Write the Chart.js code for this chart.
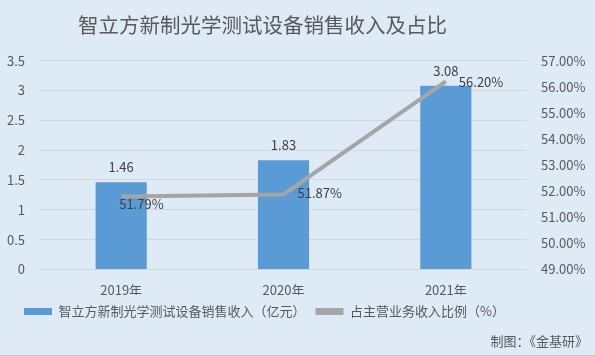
<!DOCTYPE html>
<html><head><meta charset="utf-8">
<script src="https://cdn.jsdelivr.net/npm/chart.js@4/dist/chart.umd.min.js"></script>
<style>html,body{margin:0;padding:0;background:#DEEAF6;}canvas{display:block;}</style>
</head><body>
<canvas id="c" width="595" height="356"></canvas>
<script>
const categories = ['2019年', '2020年', '2021年'];
const revenue = [1.46, 1.83, 3.08];
const ratio = [51.79, 51.87, 56.20];
const revenueLabel = '智立方新制光学测试设备销售收入（亿元）';
const ratioLabel = '占主营业务收入比例（%）';
const titleText = '智立方新制光学测试设备销售收入及占比';
const sourceText = '制图：《金基研》';
const FONT = '"Noto Sans CJK SC", "DejaVu Sans", sans-serif';

const bgPlugin = {
  id: 'bg',
  afterLayout(chart) {
    if (chart.legend) chart.legend.right = chart.width - 66;
    if (chart.titleBlock) chart.titleBlock.right = chart.width - 70;
  },
  beforeDraw(chart) {
    const ctx = chart.ctx;
    ctx.save();
    ctx.fillStyle = '#DEEAF6';
    ctx.fillRect(0, 0, chart.width, chart.height);
    ctx.restore();
  },
  afterDraw(chart) {
    const ctx = chart.ctx;
    ctx.save();
    ctx.font = '13px ' + FONT;
    ctx.fillStyle = '#595959';
    ctx.textAlign = 'right';
    ctx.textBaseline = 'middle';
    ctx.fillText(sourceText, 588, 341);
    ctx.strokeStyle = '#C8C8C8';
    ctx.lineWidth = 1;
    ctx.beginPath(); ctx.moveTo(0, 355.5); ctx.lineTo(595, 355.5); ctx.stroke();
    // data labels
    ctx.font = '13px ' + FONT;
    ctx.fillStyle = '#404040';
    ctx.textAlign = 'center';
    ctx.textBaseline = 'middle';
    chart.getDatasetMeta(0).data.forEach((b, i) => {
      ctx.fillText(revenue[i].toFixed(2), b.x, b.y - 15);
    });
    ctx.textAlign = 'left';
    chart.getDatasetMeta(1).data.forEach((p, i) => {
      const t = ratio[i].toFixed(2) + '%';
      if (i === ratio.length - 1) {
        ctx.fillText(t, p.x + 13, p.y + 1);
      } else if (i === 0) {
        ctx.fillText(t, p.x - 2, p.y + 7);
      } else {
        ctx.fillText(t, p.x + 14, p.y - 1);
      }
    });
    ctx.restore();
  }
};

new Chart(document.getElementById('c'), {
  data: {
    labels: categories,
    datasets: [
      { type: 'bar', label: revenueLabel, data: revenue, backgroundColor: '#5B9BD5', yAxisID: 'y',
        categoryPercentage: 0.63, barPercentage: 0.5, order: 2 },
      { type: 'line', label: ratioLabel, data: ratio, borderColor: '#A5A5A5', backgroundColor: '#A5A5A5',
        borderWidth: 4, pointRadius: 0, yAxisID: 'y1', order: 1, tension: 0 }
    ]
  },
  options: {
    responsive: false,
    animation: false,
    layout: { padding: { left: 0, right: 0, top: 0, bottom: 28 } },
    plugins: {
      title: { display: true, text: titleText, color: '#595959', font: { size: 20.5, family: FONT, weight: 'normal' },
        padding: { top: 13, bottom: 23 } },
      legend: { position: 'bottom', labels: { color: '#595959', font: { size: 13, family: FONT },
        boxWidth: 28, boxHeight: 7, padding: 10,
        generateLabels(chart) {
          return [
            { text: revenueLabel, fillStyle: '#5B9BD5', strokeStyle: '#5B9BD5', lineWidth: 0, datasetIndex: 0, fontColor: '#595959' },
            { text: ratioLabel, fillStyle: '#A5A5A5', strokeStyle: '#A5A5A5', lineWidth: 0, datasetIndex: 1, fontColor: '#595959' }
          ];
        } } },
      tooltip: { enabled: false }
    },
    scales: {
      x: { grid: { display: false }, border: { display: false },
        ticks: { color: '#595959', font: { size: 13, family: FONT }, padding: 5 },
        afterFit(s) { s.height -= 8; } },
      y: { position: 'left', min: 0, max: 3.5,
        ticks: { stepSize: 0.5, color: '#595959', font: { size: 13, family: FONT }, padding: 15, callback: v => String(v) },
        grid: { color: '#D0D7DE', lineWidth: 1, drawTicks: false }, border: { display: false },
        afterFit(s) { s.width = 40; } },
      y1: { position: 'right', min: 49, max: 57, ticks: { stepSize: 1, color: '#595959', font: { size: 13, family: FONT }, padding: 14,
          callback: v => v.toFixed(2) + '%' },
        grid: { display: false, drawTicks: false }, border: { display: false },
        afterFit(s) { s.width = 68; } }
    }
  },
  plugins: [bgPlugin]
});
</script>
</body></html>
